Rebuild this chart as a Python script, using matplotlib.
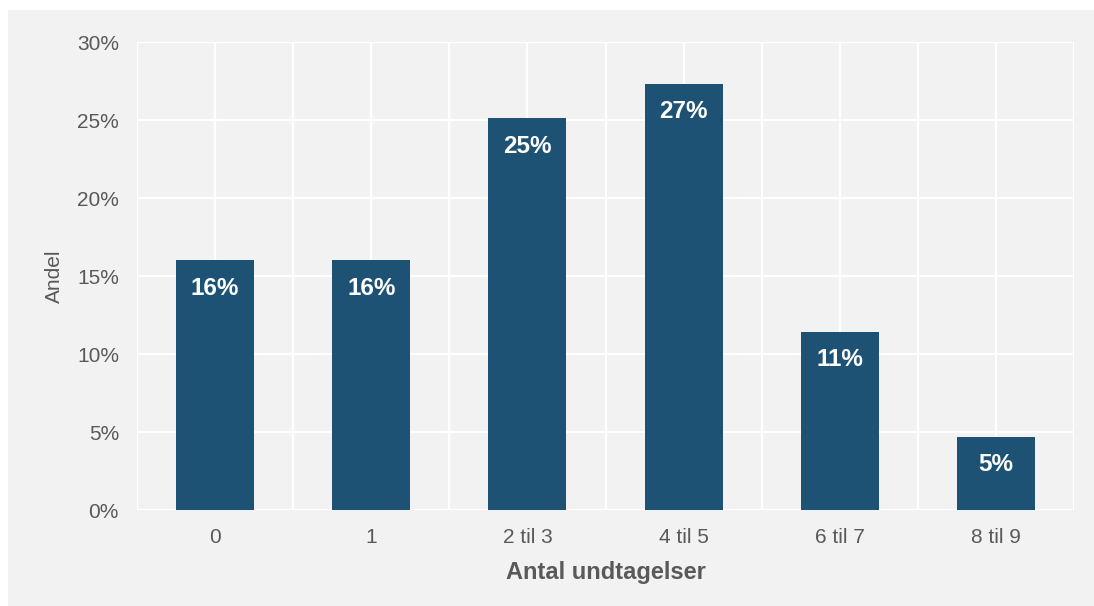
import matplotlib
matplotlib.use("Agg")
import matplotlib.pyplot as plt
from matplotlib.patches import Rectangle
import numpy as np

# Share of cases by number of exceptions
categories = ["0", "1", "2 til 3", "4 til 5", "6 til 7", "8 til 9"]
shares = [16.0, 16.0, 25.1, 27.3, 11.4, 4.7]
y_ticks = [0, 5, 10, 15, 20, 25, 30]

BAR_COLOR = "#1e5274"
PANEL_BG = "#f2f2f2"
TEXT_GRAY = "#595959"

plt.rcParams["font.family"] = ["Liberation Sans", "DejaVu Sans"]

W, H = 1094, 606
fig = plt.figure(figsize=(W / 100, H / 100), dpi=100)
fig.patch.set_facecolor("white")

# light gray panel behind the chart
fig.patches.append(Rectangle((8 / W, 0), 1 - 8 / W, 1 - 10 / H,
                             transform=fig.transFigure, facecolor=PANEL_BG,
                             edgecolor="none", zorder=-1))

left, right, top, bottom = 137, 1074, 42, 510
ax = fig.add_axes([left / W, 1 - bottom / H, (right - left) / W, (bottom - top) / H])
ax.set_facecolor(PANEL_BG)

x = np.arange(len(categories))
ax.bar(x, shares, width=0.5, color=BAR_COLOR, zorder=3)

for xi, v in zip(x, shares):
    ax.annotate(f"{v:.0f}%", xy=(xi, v), xytext=(0, -20), textcoords="offset points",
                ha="center", va="center", color="white", fontsize=17.5,
                fontweight="bold", zorder=4)

ax.set_xlim(-0.5, len(categories) - 0.5)
ax.set_ylim(0, 30)
ax.set_yticks(y_ticks)
ax.set_yticklabels([f"{t}%" for t in y_ticks])
ax.set_xticks(x)
ax.set_xticklabels(categories)
ax.set_xticks(np.arange(-0.5, len(categories), 1.0), minor=True)

ax.grid(True, which="both", axis="x", color="white", linewidth=1.6, zorder=1)
ax.grid(True, which="major", axis="y", color="white", linewidth=1.6, zorder=1)
ax.set_axisbelow(True)

for s in ax.spines.values():
    s.set_visible(False)

ax.tick_params(axis="both", which="both", length=0, labelsize=15, colors=TEXT_GRAY)
ax.tick_params(axis="y", pad=13)
ax.tick_params(axis="x", pad=13)

ax.set_xlabel("Antal undtagelser", fontsize=17, fontweight="bold", color=TEXT_GRAY, labelpad=10)
ax.set_ylabel("Andel", fontsize=15, color=TEXT_GRAY, labelpad=9)

fig.savefig("out.png", dpi=100, facecolor=fig.get_facecolor())
